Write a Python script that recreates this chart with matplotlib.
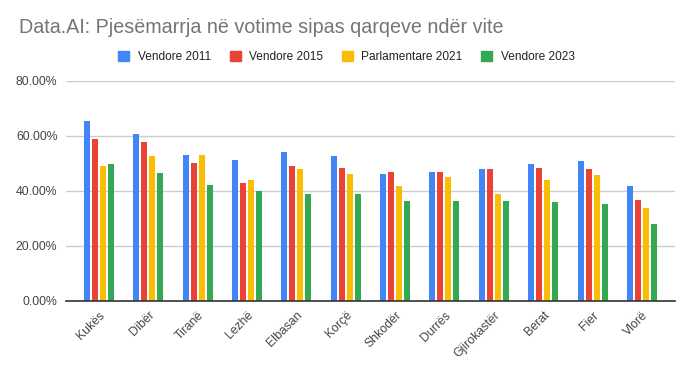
import numpy as np
import matplotlib
matplotlib.use("Agg")
import matplotlib.pyplot as plt
from matplotlib.ticker import FuncFormatter
from matplotlib.patches import Patch

plt.rcParams['font.family'] = ['Liberation Sans', 'DejaVu Sans']

qarqet = ["Kukës", "Dibër", "Tiranë", "Lezhë", "Elbasan", "Korçë",
          "Shkodër", "Durrës", "Gjirokastër", "Berat", "Fier", "Vlorë"]
seri = ["Vendore 2011", "Vendore 2015", "Parlamentare 2021", "Vendore 2023"]
v2011 = [65.5, 60.8, 53.2, 51.4, 54.3, 52.8, 46.3, 47.0, 47.8, 49.6, 50.7, 41.9]
v2015 = [58.7, 57.6, 50.3, 42.7, 49.2, 48.5, 46.7, 46.7, 48.1, 48.5, 48.1, 36.8]
p2021 = [49.2, 52.8, 53.2, 44.1, 47.8, 46.3, 41.9, 45.2, 38.7, 44.1, 45.6, 33.6]
v2023 = [49.6, 46.5, 42.3, 39.8, 38.7, 38.7, 36.5, 36.5, 36.5, 35.8, 35.4, 27.8]
ngjyrat = ["#4285F4", "#EA4335", "#FBBC04", "#34A853"]

fig = plt.figure(figsize=(6.93, 3.71), dpi=100)
ax = fig.add_axes([0.095, 0.189, 0.879, 0.593])

x = np.arange(len(qarqet))
w = 0.12
step = 0.162
for i, vals in enumerate([v2011, v2015, p2021, v2023]):
    ax.bar(x + (i - 1.5) * step, np.array(vals) / 100, width=w,
           color=ngjyrat[i], label=seri[i], zorder=3)

ax.set_xlim(-0.67, len(qarqet) - 0.33)
ax.set_ylim(0, 0.8)
ax.set_yticks([0, 0.2, 0.4, 0.6, 0.8])
ax.yaxis.set_major_formatter(FuncFormatter(lambda v, p: "%.2f%%" % (v * 100)))
ax.grid(axis='y', color='#cccccc', linewidth=1, zorder=0)
for s in ['top', 'right', 'left']:
    ax.spines[s].set_visible(False)
ax.spines['bottom'].set_color('#333333')
ax.spines['bottom'].set_linewidth(1.2)
ax.spines['bottom'].set_zorder(4)
ax.tick_params(axis='both', length=0, labelsize=8.8, labelcolor='#444444')
ax.tick_params(axis='y', pad=6)
ax.set_xticks(x)
ax.set_xticklabels(qarqet, rotation=45, ha='right', rotation_mode='anchor')
ax.tick_params(axis='x', pad=6)

fig.text(0.028, 0.925, "Data.AI: Pjesëmarrja në votime sipas qarqeve ndër vite",
         fontsize=14.25, color='#757575', va='center')

handles = [Patch(color=c, label=l) for c, l in zip(ngjyrat, seri)]
fig.legend(handles=handles, loc='center', bbox_to_anchor=(0.5, 0.846), ncol=4,
           frameon=False, fontsize=8.6, handlelength=0.9, handleheight=0.9,
           handletextpad=0.7, columnspacing=1.6, labelcolor='#222222')

fig.savefig("out.png", dpi=100)
